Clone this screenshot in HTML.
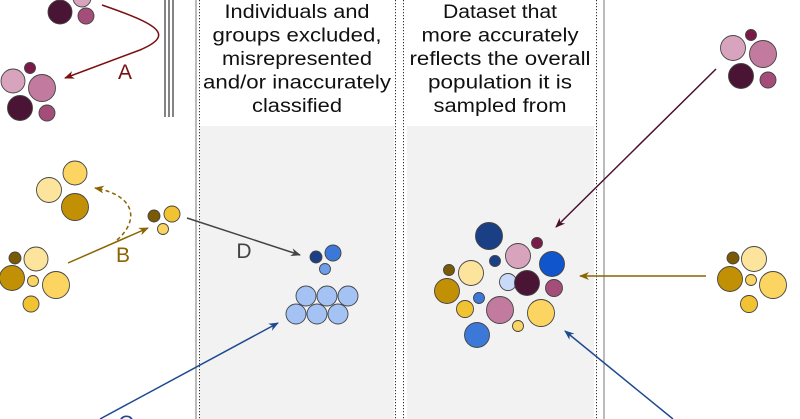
<!DOCTYPE html>
<html><head><meta charset="utf-8"><style>html,body{margin:0;padding:0;background:#fff}svg{display:block}</style></head>
<body>
<svg width="800" height="419" viewBox="0 0 800 419" xmlns="http://www.w3.org/2000/svg" font-family="Liberation Sans, sans-serif">
<defs>
<marker id="ma" markerWidth="10" markerHeight="8" refX="9" refY="4" orient="auto" markerUnits="userSpaceOnUse"><path d="M0,0 L10,4 L0,8 L3,4z" fill="#7a1010"/></marker>
<marker id="mm" markerWidth="10" markerHeight="8" refX="9" refY="4" orient="auto" markerUnits="userSpaceOnUse"><path d="M0,0 L10,4 L0,8 L3,4z" fill="#4a1030"/></marker>
<marker id="mb" markerWidth="10" markerHeight="8" refX="9" refY="4" orient="auto" markerUnits="userSpaceOnUse"><path d="M0,0 L10,4 L0,8 L3,4z" fill="#8a6400"/></marker>
<marker id="md" markerWidth="10" markerHeight="8" refX="9" refY="4" orient="auto" markerUnits="userSpaceOnUse"><path d="M0,0 L10,4 L0,8 L3,4z" fill="#444"/></marker>
<marker id="mc" markerWidth="10" markerHeight="8" refX="9" refY="4" orient="auto" markerUnits="userSpaceOnUse"><path d="M0,0 L10,4 L0,8 L3,4z" fill="#1e4a90"/></marker>
</defs>
<rect x="200" y="126" width="194" height="293" fill="#f2f2f2"/>
<rect x="407" y="126" width="187" height="293" fill="#f2f2f2"/>
<line x1="196" y1="0" x2="196" y2="419" stroke="#777" stroke-width="1"/>
<line x1="604" y1="0" x2="604" y2="419" stroke="#777" stroke-width="1"/>
<g stroke="#333" stroke-width="1" stroke-dasharray="1.2,1.8">
<line x1="199.5" y1="0" x2="199.5" y2="419"/>
<line x1="395.5" y1="0" x2="395.5" y2="419"/>
<line x1="403.5" y1="0" x2="403.5" y2="419"/>
<line x1="596.5" y1="0" x2="596.5" y2="419"/>
</g>
<g stroke="#666" stroke-width="1.6"><line x1="165" y1="0" x2="165" y2="117"/><line x1="169" y1="0" x2="169" y2="117"/><line x1="173" y1="0" x2="173" y2="117"/></g>
<g font-size="19" fill="#111" text-anchor="middle">
<text x="297" y="18" textLength="145" lengthAdjust="spacingAndGlyphs">Individuals and</text>
<text x="297" y="41.5" textLength="169" lengthAdjust="spacingAndGlyphs">groups excluded,</text>
<text x="297" y="65" textLength="150" lengthAdjust="spacingAndGlyphs">misrepresented</text>
<text x="297" y="88.5" textLength="188" lengthAdjust="spacingAndGlyphs">and/or inaccurately</text>
<text x="297" y="112" textLength="90" lengthAdjust="spacingAndGlyphs">classified</text>
<text x="500" y="18" textLength="114" lengthAdjust="spacingAndGlyphs">Dataset that</text>
<text x="500" y="41.5" textLength="157" lengthAdjust="spacingAndGlyphs">more accurately</text>
<text x="500" y="65" textLength="181" lengthAdjust="spacingAndGlyphs">reflects the overall</text>
<text x="500" y="88.5" textLength="144" lengthAdjust="spacingAndGlyphs">population it is</text>
<text x="500" y="112" textLength="133" lengthAdjust="spacingAndGlyphs">sampled from</text>
</g>
<path d="M102,5 C160,25 175,35 140,50 L65,78" fill="none" stroke="#7a1010" stroke-width="1.5" marker-end="url(#ma)"/>
<text x="125" y="79" font-size="21" fill="#7a1010" text-anchor="middle">A</text>
<line x1="68" y1="263" x2="148" y2="228" stroke="#8a6400" stroke-width="1.5" marker-end="url(#mb)"/>
<path d="M117,240 C140,220 135,195 95,188" fill="none" stroke="#8a6400" stroke-width="1.5" stroke-dasharray="4,3" marker-end="url(#mb)"/>
<text x="123" y="262" font-size="21" fill="#8a6400" text-anchor="middle">B</text>
<line x1="187" y1="218" x2="300" y2="255" stroke="#444" stroke-width="1.5" marker-end="url(#md)"/>
<text x="244" y="258" font-size="21" fill="#444" text-anchor="middle">D</text>
<line x1="100" y1="419" x2="278" y2="323" stroke="#1e4a90" stroke-width="1.5" marker-end="url(#mc)"/>
<text x="126" y="430" font-size="21" fill="#1e4a90" text-anchor="middle">C</text>
<line x1="716" y1="69" x2="556" y2="227" stroke="#4a1030" stroke-width="1.5" marker-end="url(#mm)"/>
<line x1="706" y1="276" x2="580" y2="276" stroke="#8a6400" stroke-width="1.5" marker-end="url(#mb)"/>
<line x1="673" y1="419" x2="565" y2="331" stroke="#1e4a90" stroke-width="1.5" marker-end="url(#mc)"/>
<g stroke="#444" stroke-width="0.9">
<circle cx="82" cy="-2" r="9" fill="#d8a4bd"/>
<circle cx="60" cy="12" r="12" fill="#4a1535"/>
<circle cx="86" cy="16" r="8" fill="#a34d78"/>
<circle cx="13" cy="81" r="12" fill="#d8a4bd"/>
<circle cx="30" cy="68" r="5.5" fill="#7a1a48"/>
<circle cx="42" cy="88" r="13.5" fill="#c27a9e"/>
<circle cx="20" cy="108" r="12.5" fill="#4a1535"/>
<circle cx="47" cy="113" r="8" fill="#a34d78"/>
<circle cx="49" cy="190" r="12.5" fill="#fde49c"/>
<circle cx="75" cy="173" r="12" fill="#fcd462"/>
<circle cx="75" cy="207" r="13.5" fill="#c29004"/>
<circle cx="154" cy="216" r="6" fill="#7a5a05"/>
<circle cx="172" cy="214" r="8" fill="#f1c232"/>
<circle cx="163" cy="229" r="5.5" fill="#fcd462"/>
<circle cx="15" cy="258" r="6" fill="#7a5a05"/>
<circle cx="36" cy="259" r="12" fill="#fde49c"/>
<circle cx="12" cy="278" r="12.5" fill="#c29004"/>
<circle cx="33" cy="281" r="5.5" fill="#fcd462"/>
<circle cx="56" cy="285" r="13.5" fill="#fcd462"/>
<circle cx="31" cy="304" r="8" fill="#f1c232"/>
<circle cx="316" cy="257" r="6" fill="#1a3f85"/>
<circle cx="333" cy="253" r="8" fill="#3c78d8"/>
<circle cx="325" cy="269" r="5.5" fill="#6d9eeb"/>
<g fill="#a4c2f4">
<circle cx="306" cy="296" r="10"/><circle cx="327" cy="296" r="10"/><circle cx="348" cy="296" r="10"/>
<circle cx="296" cy="314" r="10"/><circle cx="317" cy="314" r="10"/><circle cx="338" cy="314" r="10"/>
</g>
<circle cx="733" cy="48" r="12.5" fill="#d8a4bd"/>
<circle cx="751" cy="35" r="5.5" fill="#7a1a48"/>
<circle cx="763" cy="54" r="13.5" fill="#c27a9e"/>
<circle cx="741" cy="76" r="12.5" fill="#4a1535"/>
<circle cx="768" cy="80" r="8" fill="#a34d78"/>
<circle cx="733" cy="258" r="6" fill="#7a5a05"/>
<circle cx="754" cy="259" r="12.5" fill="#fde49c"/>
<circle cx="730" cy="279" r="12.5" fill="#c29004"/>
<circle cx="751" cy="280" r="5.5" fill="#fcd462"/>
<circle cx="773" cy="285" r="13.5" fill="#fcd462"/>
<circle cx="749" cy="304" r="8.5" fill="#f1c232"/>
<circle cx="489" cy="236" r="13.5" fill="#1a3f85"/>
<circle cx="537" cy="243" r="5.5" fill="#7a1a48"/>
<circle cx="518" cy="256" r="12.5" fill="#d8a4bd"/>
<circle cx="552" cy="264" r="12.5" fill="#1155cc"/>
<circle cx="495" cy="261" r="5.5" fill="#1a3f85"/>
<circle cx="471" cy="273" r="12.5" fill="#fde49c"/>
<circle cx="449" cy="270" r="5.5" fill="#7a5a05"/>
<circle cx="508" cy="282" r="8.5" fill="#c9daf8"/>
<circle cx="527" cy="283" r="12.5" fill="#4a1535"/>
<circle cx="554" cy="288" r="8.5" fill="#a34d78"/>
<circle cx="447" cy="291" r="12.5" fill="#c29004"/>
<circle cx="479" cy="298" r="5.5" fill="#3c78d8"/>
<circle cx="465" cy="309" r="8.5" fill="#f1c232"/>
<circle cx="500" cy="310" r="13.5" fill="#c27a9e"/>
<circle cx="541" cy="313" r="13.5" fill="#fcd462"/>
<circle cx="518" cy="326" r="5.5" fill="#fcd462"/>
<circle cx="477" cy="335" r="12.5" fill="#3c78d8"/>
</g>
</svg>
</body></html>
